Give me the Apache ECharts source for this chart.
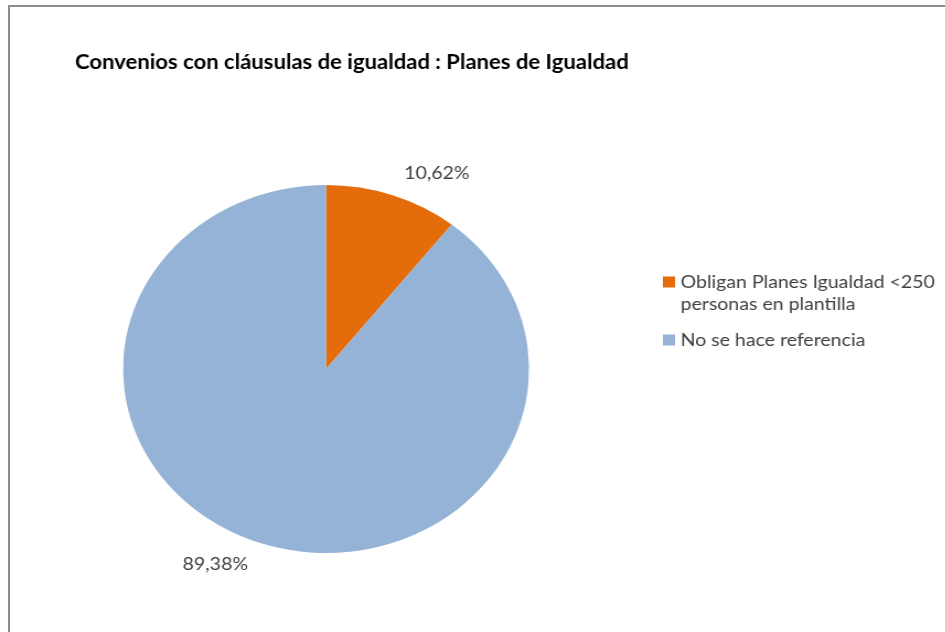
<!DOCTYPE html>
<html lang="es">
<head>
<meta charset="UTF-8">
<title>Convenios con cláusulas de igualdad</title>
<style>
  html, body { margin: 0; padding: 0; background: #fff; }
  #wrap { position: relative; width: 945px; height: 632px; overflow: hidden; }
  #frame { position: absolute; left: 8px; top: 5px; width: 945px; height: 640px;
           border-top: 2px solid #8c8c8c; border-left: 2px solid #8c8c8c; }
  /* the original picture is stretched horizontally (pie is an ellipse, text is wide),
     so the chart is drawn at 857px wide and stretched to 945px */
  #main { position: absolute; left: 0; top: 0; width: 857px; height: 632px;
          transform: scaleX(1.103); transform-origin: 0 0; }
</style>
<script src="https://cdn.jsdelivr.net/npm/echarts@6/dist/echarts.min.js"></script>
</head>
<body>
<div id="wrap">
  <div id="frame"></div>
  <div id="main"></div>
</div>
<script>
var titleText = 'Convenios con cláusulas de igualdad : Planes de Igualdad';
var categories = ['Obligan Planes Igualdad <250 personas en plantilla', 'No se hace referencia'];
var values = [10.62, 89.38];
var colors = ['#e46c0a', '#95b3d7'];

var seriesData = categories.map(function (name, i) {
    return { name: name, value: values[i], itemStyle: { color: colors[i] } };
});

var textFont = 'Lato';

var myChart = echarts.init(document.getElementById('main'));
myChart.setOption({
    animation: false,
    title: {
        text: titleText,
        left: 63,
        top: 48,
        textStyle: { fontFamily: textFont, fontSize: 20, fontWeight: 'bold', color: '#000' }
    },
    legend: {
        orient: 'vertical',
        left: 601,
        top: 249,
        padding: 0,
        icon: 'rect',
        itemWidth: 11,
        itemHeight: 11,
        itemGap: 14,
        selectedMode: false,
        // empty first line so the marker lines up with the first line of the wrapped name
        formatter: function (name) {
            return name.indexOf(' personas') > -1 ? '\n' + name.replace(' personas', '\npersonas') : name;
        },
        textStyle: { fontFamily: textFont, fontSize: 17.7, color: '#404040', lineHeight: 22 }
    },
    series: [{
        type: 'pie',
        center: [295.6, 369],
        radius: 184,
        startAngle: 90,
        silent: true,
        avoidLabelOverlap: false,
        itemStyle: { borderWidth: 0 },
        label: {
            show: true,
            position: 'outside',
            fontFamily: textFont,
            fontSize: 17.7,
            color: '#404040',
            formatter: function (p) {
                return p.value.toFixed(2).replace('.', ',') + '%';
            }
        },
        labelLine: { show: false, length: 23, length2: -2 },
        data: seriesData
    }]
});
</script>
</body>
</html>
